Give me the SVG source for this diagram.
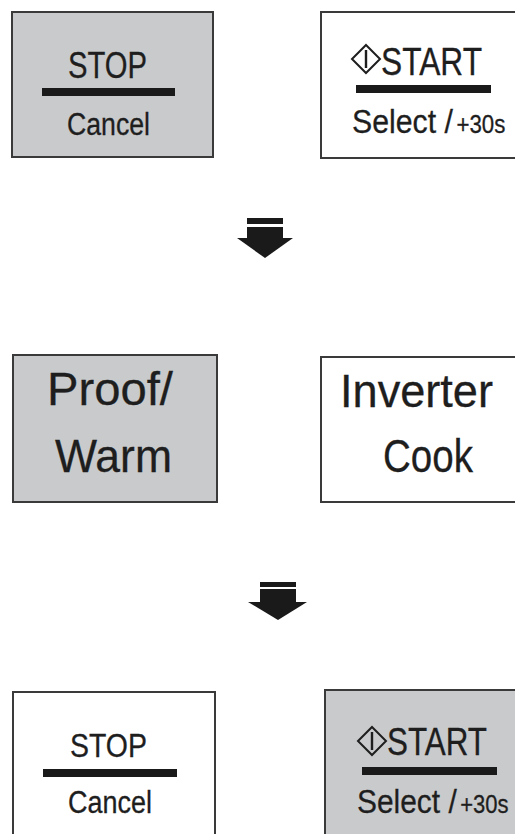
<svg xmlns="http://www.w3.org/2000/svg" width="515" height="834" viewBox="0 0 515 834">
<style>
.box{stroke:#3a3a3a;stroke-width:2}
.grey{fill:#c9cacb}
.white{fill:#ffffff}
.t{font-family:"Liberation Sans",Arial,sans-serif;fill:#1e1e1e;stroke:#1e1e1e;stroke-width:0.3}
.bar{fill:#1a1a1a}
.ico{fill:none;stroke:#1e1e1e;stroke-width:2}
.arr{fill:#1a1a1a}
</style>
<defs>
<g id="icon"><path class="ico" d="M0,-14 L14,0 L0,14 L-14,0 Z"/><rect x="-1.2" y="-9" width="2.4" height="18" fill="#1e1e1e"/></g>
</defs>
<rect width="515" height="834" fill="#ffffff"/>
<g id="stop1">
<rect class="box grey" x="12" y="12" width="201" height="145"/>
<text class="t" x="68" y="78" font-size="36" textLength="79" lengthAdjust="spacingAndGlyphs">STOP</text>
<rect class="bar" x="42" y="88" width="133" height="8"/>
<text class="t" x="67" y="135" font-size="31" textLength="83" lengthAdjust="spacingAndGlyphs">Cancel</text>
</g>
<g id="start1">
<rect class="box white" x="321" y="12" width="210" height="146"/>
<use href="#icon" x="366" y="59"/>
<text class="t" x="381" y="75" font-size="38" textLength="101" lengthAdjust="spacingAndGlyphs">START</text>
<rect class="bar" x="356" y="85" width="135" height="8"/>
<text class="t" transform="translate(352,133) scale(0.89,1)" font-size="34">Select /<tspan font-size="25" dx="4">+30s</tspan></text>
</g>
<g id="proof">
<rect class="box grey" x="13" y="355" width="204" height="147"/>
<text class="t" x="47" y="405" font-size="46" textLength="126" lengthAdjust="spacingAndGlyphs">Proof/</text>
<text class="t" x="55" y="472" font-size="46" textLength="117" lengthAdjust="spacingAndGlyphs">Warm</text>
</g>
<g id="inverter">
<rect class="box white" x="321" y="357" width="210" height="145"/>
<text class="t" x="340" y="407" font-size="46" textLength="153" lengthAdjust="spacingAndGlyphs">Inverter</text>
<text class="t" x="383" y="472" font-size="46" textLength="90" lengthAdjust="spacingAndGlyphs">Cook</text>
</g>
<g id="stop2">
<rect class="box white" x="13" y="692" width="202" height="160"/>
<text class="t" x="70" y="757" font-size="34" textLength="77" lengthAdjust="spacingAndGlyphs">STOP</text>
<rect class="bar" x="43" y="769" width="134" height="8"/>
<text class="t" x="68" y="813" font-size="31" textLength="84" lengthAdjust="spacingAndGlyphs">Cancel</text>
</g>
<g id="start2">
<rect class="box grey" x="325" y="690" width="210" height="160"/>
<use href="#icon" x="372" y="741"/>
<text class="t" x="387" y="755" font-size="38" textLength="100" lengthAdjust="spacingAndGlyphs">START</text>
<rect class="bar" x="362" y="767" width="135" height="8"/>
<text class="t" transform="translate(357,813) scale(0.88,1)" font-size="34">Select /<tspan font-size="25" dx="4">+30s</tspan></text>
</g>
<g id="connectors">
<g id="arrow1">
<rect class="arr" x="247" y="218" width="36" height="6"/>
<rect class="arr" x="247" y="227" width="36" height="11"/>
<path class="arr" d="M237,238 L293,238 L265,258 Z"/>
</g>
<g id="arrow2">
<rect class="arr" x="260" y="582" width="36" height="5"/>
<rect class="arr" x="260" y="589" width="36" height="13"/>
<path class="arr" d="M248,602 L307,602 L278,620 Z"/>
</g>
</g>
</svg>
